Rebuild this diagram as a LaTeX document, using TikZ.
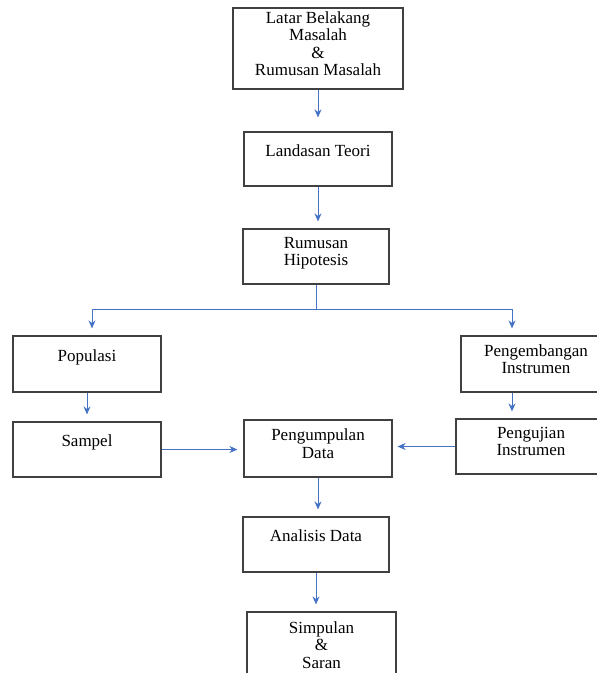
\documentclass[tikz,border=0pt]{standalone}
\usepackage{fontspec}
\setmainfont{Liberation Serif}
\usetikzlibrary{arrows.meta}
\definecolor{flowblue}{RGB}{68,114,196}
\tikzset{
    box/.style = {
        draw       = black!75,
        line width = 1.2pt,
        rectangle,
        align      = center,
        inner sep  = 2pt,
        text depth = 10pt,
        font       = \fontsize{17}{17.5}\selectfont,
    },
    oneline/.style = {
        box,
        text depth = 17pt,
    },
    flow/.style = {
        ->,
        draw       = flowblue,
        line width = 1pt,
        shorten >  = 7pt,
    }
}

\begin{document}
\begin{tikzpicture}[x=1pt, y=-1pt, >={Stealth[length=8pt, width=7pt]}]
  % page size of the reference, y runs downwards
  \path[use as bounding box] (0,0) rectangle (597,673);

  \node[box, minimum width=170pt, minimum height=81pt] (latar) at (318,48.5)
    {Latar Belakang\\Masalah\\\&\\Rumusan Masalah};
  \node[oneline, minimum width=148pt, minimum height=54pt] (landasan) at (318,159)
    {Landasan Teori};
  \node[box, minimum width=146pt, minimum height=55pt] (hipotesis) at (316,256.5)
    {Rumusan\\Hipotesis};

  \node[oneline, minimum width=148pt, minimum height=56pt] (populasi) at (87,364)
    {Populasi};
  \node[box, minimum width=150pt, minimum height=56pt] (pengembangan) at (536,364)
    {Pengembangan\\Instrumen};

  \node[oneline, minimum width=148pt, minimum height=55pt] (sampel) at (87,449.5)
    {Sampel};
  \node[box, minimum width=148pt, minimum height=57pt] (pengumpulan) at (318,448.5)
    {Pengumpulan\\Data};
  \node[box, minimum width=150pt, minimum height=55pt] (pengujian) at (531,446.5)
    {Pengujian\\Instrumen};

  \node[oneline, minimum width=146pt, minimum height=55pt] (analisis) at (316,544.5)
    {Analisis Data};
  \node[box, minimum width=149pt, minimum height=76pt] (simpulan) at (321.5,650)
    {Simpulan\\\&\\Saran};

  % main column
  \draw[flow, shorten >=14pt] (latar.south) -- (latar.south |- landasan.north);
  \draw[flow] (landasan.south) -- (landasan.south |- hipotesis.north);

  % split into the two branches
  \draw[flow] (hipotesis.south) -- ++(0,25) -| ([xshift=5pt]populasi.north);
  \draw[flow] (hipotesis.south) -- ++(0,25) -| ([xshift=-24pt]pengembangan.north);

  \draw[flow] (populasi) -- (sampel);
  \draw[flow] ([xshift=-24pt]pengembangan.south)
    -- ([xshift=-24pt]pengembangan.south |- pengujian.north);

  \draw[flow, shorten >=6pt] (sampel.east) -- (sampel.east -| pengumpulan.west);
  \draw[flow, shorten >=5pt] (pengujian.west) -- (pengujian.west -| pengumpulan.east);

  \draw[flow] (pengumpulan.south) -- (pengumpulan.south |- analisis.north);
  \draw[flow] (analisis.south) -- (analisis.south |- simpulan.north);
\end{tikzpicture}
\end{document}
